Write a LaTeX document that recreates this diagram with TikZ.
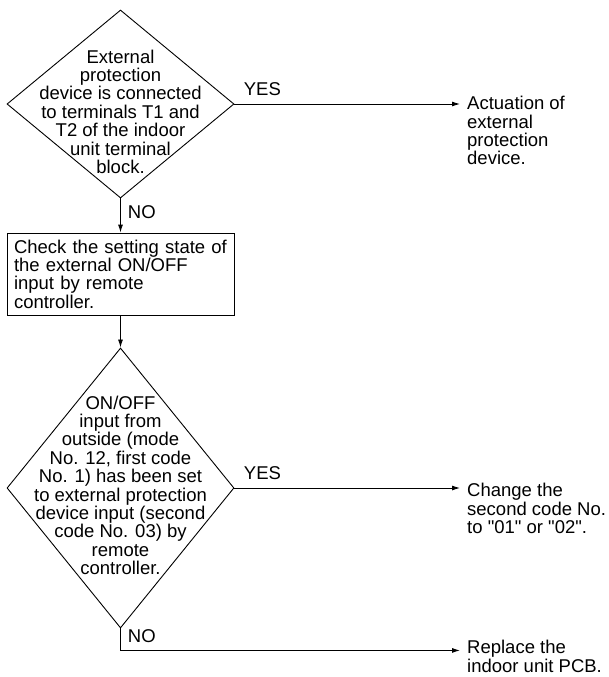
\documentclass[tikz,border=0pt]{standalone}
\usepackage{fontspec}
\setmainfont{Liberation Sans}
\usepackage{tikz}
\usetikzlibrary{arrows.meta}
\usetikzlibrary{shapes.geometric}
\newcommand{\chartfont}{\fontsize{18.5}{18.4}\selectfont}
\newcommand{\widthchart}{227pt}
\tikzset{
    common/.style={draw, line width=0.9pt, inner sep=0pt, font=\chartfont},
    decision/.style={common, diamond, minimum width=\widthchart, minimum height=188pt},
    process/.style={common, rectangle, minimum width=\widthchart, minimum height=82pt, text width=213pt, inner xsep=7pt, align=left},
    caption/.style={inner sep=0pt, align=center, font=\chartfont},
    result/.style={anchor=north west, inner sep=0pt, inner xsep=7pt, align=left, font=\chartfont},
    answer/.style={inner sep=0pt, font=\chartfont},
    flow/.style={->, line width=0.9pt}
}

\begin{document}
\begin{tikzpicture}[x=1pt, y=1pt, >={Latex[length=8pt, width=5pt]}]
    \useasboundingbox (0,0) rectangle (608,-677);
    \path
        (120.5,-104) node[decision] (dExt) {}
        ++(0,-170) node[process] (pCheck) {Check the setting state of\\the external ON/OFF\\input by remote\\controller.}
        ++(0,-214) node[decision, minimum height=280pt] (dMode) {};
    \node[caption] (dExtText) at ([yshift=-7.7pt]dExt.center) {External\\protection\\device is connected\\to terminals T1 and\\T2 of the indoor\\unit terminal\\block.};
    \node[caption] (dModeText) at ([yshift=2.7pt]dMode.center) {ON/OFF\\input from\\outside (mode\\No. 12, first code\\No. 1) has been set\\to external protection\\device input (second\\code No. 03) by\\remote\\controller.};
    \node[result] (rAct) at (460,-96) {Actuation of\\external\\protection\\device.};
    \node[result] (rCode) at (460,-483) {Change the\\second code No.\\to \textquotedbl 01\textquotedbl{} or \textquotedbl 02\textquotedbl.};
    \node[result] (rPcb) at (460,-640) {Replace the\\indoor unit PCB.};

    \draw[flow] (dExt) -- node[answer, pos=0.4, right=7pt] {NO} (pCheck);
    \draw[flow] (pCheck) -- (dMode);
    \draw[flow] (dExt) -- node[answer, pos=0, anchor=south west, xshift=9pt, yshift=7.5pt] {YES} (dExt -| rAct.west);
    \draw[flow] (dMode) -- node[answer, pos=0, anchor=south west, xshift=9pt, yshift=8pt] {YES} (dMode -| rCode.west);
    \draw[flow] (dMode.south) -- node[answer, pos=0.35, right=7pt] {NO} ++(0,-22) coordinate (cNo) -- (cNo -| rPcb.west);
\end{tikzpicture}
\end{document}
